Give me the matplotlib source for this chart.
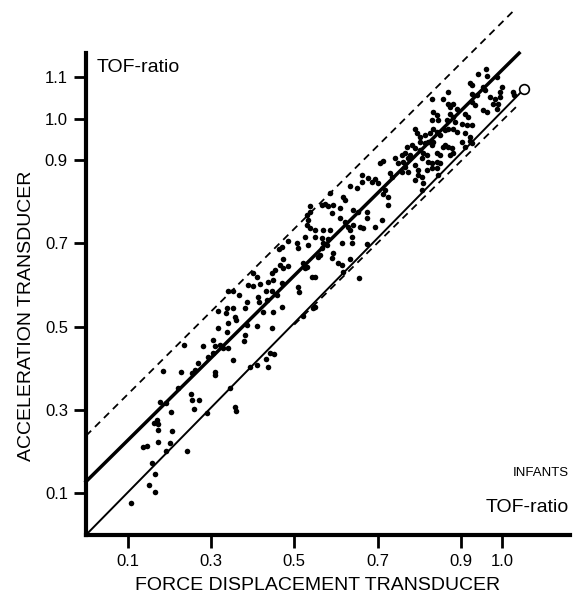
import numpy as np
import matplotlib.pyplot as plt

plt.rcParams['font.family'] = ['Liberation Sans', 'DejaVu Sans']

# TOF-ratio, force displacement transducer (x) vs acceleration transducer (y)
fdt = [
    # low end
    0.235, 0.268, 0.186, 0.228, 0.254, 0.262, 0.220, 0.251, 0.255, 0.271,
    0.178, 0.191, 0.204, 0.260, 0.170, 0.164, 0.174, 0.174, 0.206, 0.136,
    0.147, 0.172, 0.202, 0.191, 0.242, 0.159, 0.166, 0.152, 0.166, 0.107,
    # 0.3 - 0.5
    0.463, 0.471, 0.486, 0.506, 0.508, 0.474, 0.466, 0.472, 0.454, 0.486,
    0.402, 0.410, 0.446, 0.438, 0.448, 0.470, 0.390, 0.402, 0.418, 0.432,
    0.446, 0.510, 0.512, 0.342, 0.354, 0.368, 0.386, 0.414, 0.416, 0.434,
    0.458, 0.382, 0.338, 0.336, 0.318, 0.354, 0.358, 0.360, 0.448, 0.470,
    0.426, 0.342, 0.318, 0.386, 0.410, 0.446, 0.338, 0.382, 0.379, 0.306,
    0.282, 0.310, 0.322, 0.330, 0.342, 0.306, 0.294, 0.310, 0.310, 0.352,
    0.442, 0.451, 0.432, 0.438, 0.394, 0.410, 0.358, 0.360, 0.346, 0.290,
    # 0.5 - 0.75 upper
    0.706, 0.713, 0.742, 0.750, 0.730, 0.734, 0.678, 0.686, 0.694, 0.702,
    0.662, 0.662, 0.634, 0.650, 0.718, 0.714, 0.726, 0.726, 0.618, 0.622,
    0.586, 0.566, 0.574, 0.582, 0.594, 0.538, 0.538, 0.610, 0.642, 0.654,
    0.674, 0.590, 0.530, 0.534, 0.610, 0.622, 0.674, 0.710, 0.530, 0.538,
    0.550, 0.570, 0.586, 0.630, 0.634, 0.642, 0.658, 0.666, 0.694,
    # 0.5 - 0.75 lower
    0.526, 0.550, 0.566, 0.582, 0.570, 0.578, 0.614, 0.638, 0.638, 0.534,
    0.566, 0.594, 0.590, 0.634, 0.674, 0.558, 0.562, 0.606, 0.614, 0.522,
    0.530, 0.526, 0.542, 0.550, 0.618, 0.656, 0.550, 0.546, 0.520,
    # top end
    0.960, 0.942, 0.962, 0.922, 0.926, 0.986, 0.998, 0.994, 0.954, 0.958,
    0.868, 0.830, 0.926, 0.938, 1.026, 1.027, 0.970, 0.982, 0.994, 0.978,
    0.990, 0.858, 0.870, 0.874, 0.882, 0.890, 0.926, 0.934, 0.954, 0.962,
    0.986, 0.910, 0.918, 0.834, 0.842, 0.830, 0.846, 0.874, 0.882, 0.866,
    0.886, 0.902, 0.914, 0.926, 0.790, 0.794, 0.802, 0.814, 0.834, 0.842,
    0.850, 0.826, 0.862, 0.870, 0.882, 0.890, 0.910, 0.922,
    0.802, 0.814, 0.822, 0.830, 0.834, 0.770, 0.782, 0.790, 0.766, 0.778,
    0.802, 0.810, 0.806, 0.818, 0.842, 0.850, 0.858, 0.862, 0.874, 0.882,
    0.878, 0.870, 0.910, 0.902, 0.926, 0.922, 0.758, 0.762, 0.774, 0.766,
    0.758, 0.774, 0.790, 0.798, 0.822, 0.830, 0.842, 0.818, 0.830, 0.842,
    0.850, 0.798, 0.806, 0.790, 0.810, 0.846, 0.806,
]
acc = [
    0.456, 0.414, 0.394, 0.392, 0.390, 0.396, 0.354, 0.338, 0.324, 0.324,
    0.320, 0.316, 0.294, 0.302, 0.276, 0.268, 0.266, 0.252, 0.250, 0.212,
    0.214, 0.222, 0.220, 0.202, 0.202, 0.172, 0.146, 0.120, 0.103, 0.076,
    0.686, 0.692, 0.706, 0.700, 0.690, 0.662, 0.648, 0.640, 0.636, 0.646,
    0.630, 0.620, 0.628, 0.608, 0.612, 0.606, 0.600, 0.598, 0.602, 0.586,
    0.586, 0.596, 0.584, 0.586, 0.586, 0.576, 0.560, 0.572, 0.560, 0.564,
    0.576, 0.546, 0.544, 0.534, 0.538, 0.544, 0.524, 0.516, 0.536, 0.548,
    0.536, 0.508, 0.496, 0.504, 0.502, 0.496, 0.488, 0.480, 0.466, 0.468,
    0.454, 0.454, 0.456, 0.448, 0.448, 0.436, 0.428, 0.392, 0.384, 0.420,
    0.436, 0.434, 0.422, 0.404, 0.404, 0.408, 0.308, 0.298, 0.352, 0.292,
    0.892, 0.898, 0.904, 0.892, 0.868, 0.860, 0.856, 0.848, 0.854, 0.844,
    0.864, 0.848, 0.838, 0.832, 0.828, 0.818, 0.812, 0.792, 0.812, 0.804,
    0.820, 0.792, 0.794, 0.790, 0.792, 0.790, 0.776, 0.786, 0.780, 0.776,
    0.776, 0.772, 0.768, 0.756, 0.760, 0.752, 0.760, 0.756, 0.744, 0.736,
    0.732, 0.732, 0.732, 0.740, 0.732, 0.744, 0.740, 0.736, 0.740,
    0.716, 0.716, 0.712, 0.710, 0.700, 0.696, 0.700, 0.700, 0.716, 0.696,
    0.688, 0.676, 0.664, 0.662, 0.698, 0.668, 0.672, 0.652, 0.648, 0.652,
    0.644, 0.640, 0.620, 0.620, 0.632, 0.618, 0.548, 0.544, 0.526,
    1.118, 1.106, 1.102, 1.086, 1.080, 1.100, 1.076, 1.064, 1.076, 1.068,
    1.064, 1.046, 1.060, 1.056, 1.064, 1.056, 1.052, 1.048, 1.052, 1.036,
    1.036, 1.046, 1.036, 1.028, 1.036, 1.024, 1.040, 1.032, 1.020, 1.016,
    1.024, 1.012, 1.004, 1.016, 1.008, 0.996, 0.996, 1.012, 1.004, 0.996,
    0.992, 0.988, 0.984, 0.984, 0.976, 0.964, 0.956, 0.960, 0.976, 0.968,
    0.960, 0.964, 0.972, 0.976, 0.976, 0.968, 0.964, 0.956,
    0.944, 0.940, 0.944, 0.936, 0.944, 0.932, 0.936, 0.928, 0.916, 0.912,
    0.924, 0.916, 0.904, 0.912, 0.916, 0.912, 0.932, 0.936, 0.912, 0.916,
    0.928, 0.932, 0.932, 0.944, 0.940, 0.946, 0.912, 0.896, 0.904, 0.884,
    0.872, 0.872, 0.888, 0.876, 0.896, 0.892, 0.896, 0.876, 0.880, 0.880,
    0.892, 0.864, 0.860, 0.852, 0.844, 0.864, 0.828,
]

# line of identity (ends in the open circle), regression line, limits
ident_x = [0.0, 1.051]
ident_y = [0.0, 1.070]
fit_x = [0.0, 1.040]
fit_y = [0.128, 1.157]
upper_x = [0.0, 1.030]
upper_y = [0.238, 1.262]
lower_x = [0.500, 1.037]
lower_y = [0.505, 1.032]

x_ticks = [0.1, 0.3, 0.5, 0.7, 0.9, 1.0]
y_ticks = [0.1, 0.3, 0.5, 0.7, 0.9, 1.0, 1.1]

fig = plt.figure(figsize=(5.81, 5.97), dpi=100)
ax = fig.add_axes([0.148, 0.104, 0.833, 0.807])

ax.scatter(fdt, acc, s=16, c='black', linewidths=0, zorder=3)

ax.plot(ident_x, ident_y, color='black', lw=1.4, clip_on=False)
ax.plot(ident_x[-1:], ident_y[-1:], 'o', ms=7, mfc='white', mec='black',
        mew=1.2, clip_on=False, zorder=4)
ax.plot(fit_x, fit_y, color='black', lw=2.5, clip_on=False)
ax.plot(upper_x, upper_y, color='black', lw=1.3, dashes=(4, 3), clip_on=False)
ax.plot(lower_x, lower_y, color='black', lw=1.3, dashes=(4, 3), clip_on=False)

ax.set_xlim(0, 1.162)
ax.set_ylim(0, 1.157)
ax.spines['top'].set_visible(False)
ax.spines['right'].set_visible(False)
for s in ['left', 'bottom']:
    ax.spines[s].set_linewidth(3)

ax.set_xticks(x_ticks)
ax.set_xticklabels([f'{t:.1f}' for t in x_ticks])
ax.set_yticks(y_ticks)
ax.set_yticklabels([f'{t:.1f}' for t in y_ticks])
ax.tick_params(axis='both', direction='out', length=9, width=2, labelsize=12)
ax.tick_params(axis='x', pad=5)
ax.tick_params(axis='y', pad=4)

fig.text(318 / 581, 1 - 585 / 597, 'FORCE DISPLACEMENT TRANSDUCER',
         ha='center', va='center', fontsize=14)
fig.text(27 / 581, 1 - 316 / 597, 'ACCELERATION TRANSDUCER',
         ha='center', va='center', rotation=90, fontsize=14)
fig.text(97 / 581, 1 - 67 / 597, 'TOF-ratio', ha='left', va='center', fontsize=14)
fig.text(569 / 581, 1 - 507 / 597, 'TOF-ratio', ha='right', va='center', fontsize=14)
fig.text(569 / 581, 1 - 473 / 597, 'INFANTS', ha='right', va='center', fontsize=9.5)

fig.savefig('out.png', dpi=100)
